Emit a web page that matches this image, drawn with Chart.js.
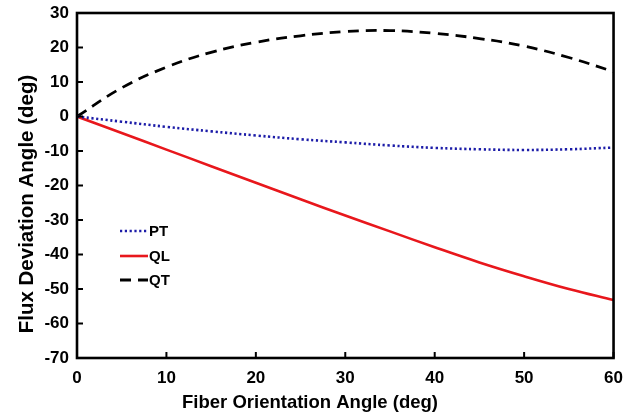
<!DOCTYPE html>
<html>
<head>
<meta charset="utf-8">
<script src="https://cdn.jsdelivr.net/npm/chart.js@4"></script>
<style>
  html, body { margin: 0; padding: 0; background: #fff; }
  #wrap { width: 625px; height: 415px; }
</style>
</head>
<body>
<div id="wrap"><canvas id="chart"></canvas></div>
<script>
// Fiber orientation angle (deg)
const angles = [0, 5, 10, 15, 20, 25, 30, 35, 40, 45, 50, 55, 60];
// Flux deviation angle (deg) per series
const ptValues = [0, -1.5, -3.0, -4.3, -5.5, -6.6, -7.5, -8.4, -9.1, -9.5, -9.7, -9.5, -9.0];
const qlValues = [0, -4.8, -9.6, -14.4, -19.2, -24.0, -28.7, -33.3, -37.9, -42.3, -46.3, -50.0, -53.2];
const qtValues = [0, 8.3, 14.3, 18.6, 21.5, 23.4, 24.6, 24.9, 24.1, 22.6, 20.4, 17.1, 13.0];
const seriesNames = ['PT', 'QL', 'QT'];
const xTicks = [0, 10, 20, 30, 40, 50, 60];
const yTicks = [-70, -60, -50, -40, -30, -20, -10, 0, 10, 20, 30];
const xTitle = 'Fiber Orientation Angle (deg)';
const yTitle = 'Flux Deviation Angle (deg)';

const FONT = 'Liberation Sans, Arial, sans-serif';

function toPoints(vals) {
  return angles.map((a, i) => ({ x: a, y: vals[i] }));
}

// frame, inward ticks, axis titles and the inset legend
const framePlugin = {
  id: 'frame',
  afterDraw(chart) {
    const ctx = chart.ctx;
    const a = chart.chartArea;
    const xs = chart.scales.x, ys = chart.scales.y;
    ctx.save();
    ctx.strokeStyle = '#000';
    ctx.lineWidth = 2.6;
    ctx.strokeRect(a.left, a.top, a.right - a.left, a.bottom - a.top);
    ctx.lineWidth = 2;
    ctx.beginPath();
    xTicks.forEach(v => {
      const px = xs.getPixelForValue(v);
      ctx.moveTo(px, a.bottom);
      ctx.lineTo(px, a.bottom - 6);
    });
    yTicks.forEach(v => {
      const py = ys.getPixelForValue(v);
      ctx.moveTo(a.left, py);
      ctx.lineTo(a.left + 6, py);
    });
    ctx.stroke();

    // axis titles
    ctx.fillStyle = '#000';
    ctx.textAlign = 'center';
    ctx.textBaseline = 'alphabetic';
    ctx.font = 'bold 18.5px ' + FONT;
    ctx.fillText(xTitle, 310, 408);
    ctx.save();
    ctx.translate(33, 204);
    ctx.rotate(-Math.PI / 2);
    ctx.font = 'bold 20.5px ' + FONT;
    ctx.fillText(yTitle, 0, 0);
    ctx.restore();

    // legend inside the plot
    ctx.font = 'bold 15px ' + FONT;
    ctx.textAlign = 'left';
    ctx.textBaseline = 'middle';
    const rows = [231, 256, 280];
    chart.data.datasets.forEach((ds, i) => {
      const y = rows[i];
      ctx.beginPath();
      ctx.strokeStyle = ds.borderColor;
      ctx.lineWidth = ds.borderWidth;
      ctx.setLineDash(ds.borderDash || []);
      ctx.moveTo(120, y);
      ctx.lineTo(148, y);
      ctx.stroke();
      ctx.setLineDash([]);
      ctx.fillText(ds.label, 149, y + 1);
    });
    ctx.restore();
  }
};

new Chart(document.getElementById('chart'), {
  type: 'line',
  data: {
    datasets: [
      {
        label: seriesNames[0],
        data: toPoints(ptValues),
        borderColor: '#1c1ca8',
        borderWidth: 2.6,
        borderDash: [2.2, 2.6],
        pointRadius: 0,
        tension: 0.4
      },
      {
        label: seriesNames[1],
        data: toPoints(qlValues),
        borderColor: '#e8171c',
        borderWidth: 2.6,
        pointRadius: 0,
        tension: 0.4
      },
      {
        label: seriesNames[2],
        data: toPoints(qtValues),
        borderColor: '#000000',
        borderWidth: 2.8,
        borderDash: [11, 7],
        pointRadius: 0,
        tension: 0.4
      }
    ]
  },
  options: {
    responsive: true,
    maintainAspectRatio: false,
    animation: false,
    layout: { padding: { top: 13, right: 4, left: 0, bottom: 0 } },
    plugins: { legend: { display: false }, tooltip: { enabled: false } },
    scales: {
      x: {
        type: 'linear',
        min: 0,
        max: 60,
        afterBuildTicks: s => { s.ticks = xTicks.map(v => ({ value: v })); },
        afterFit: s => { s.height = 57; },
        grid: { display: false },
        border: { display: false },
        ticks: { color: '#000', padding: 2, font: { family: FONT, size: 17, weight: 'bold' } }
      },
      y: {
        min: -70,
        max: 30,
        afterBuildTicks: s => { s.ticks = yTicks.map(v => ({ value: v })); },
        afterFit: s => { s.width = 77; },
        grid: { display: false },
        border: { display: false },
        ticks: { color: '#000', padding: 0, font: { family: FONT, size: 17, weight: 'bold' } }
      }
    }
  },
  plugins: [framePlugin]
});
</script>
</body>
</html>
